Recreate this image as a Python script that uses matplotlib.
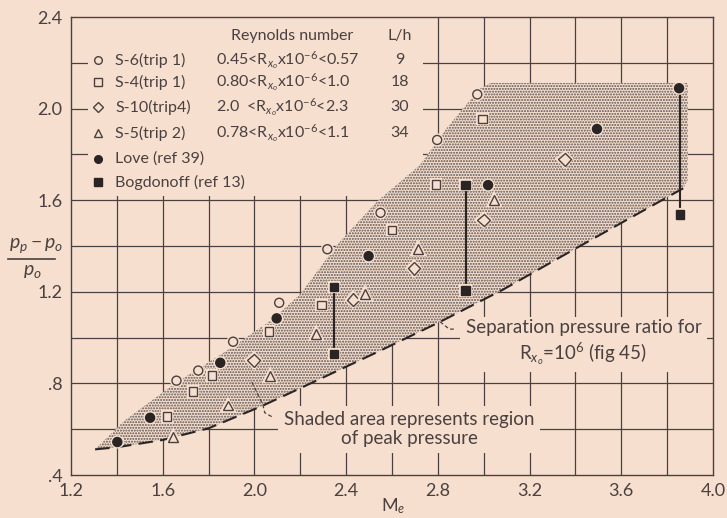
import matplotlib
matplotlib.use("Agg")
import matplotlib.pyplot as plt
import matplotlib.patheffects as pe
from matplotlib.lines import Line2D
import numpy as np

# ---------------- data ----------------
s6_M = [1.66, 1.755, 1.907, 2.108, 2.318, 2.55, 2.797, 2.972]
s6_y = [0.812, 0.856, 0.982, 1.152, 1.386, 1.545, 1.863, 2.062]
s4_M = [1.62, 1.733, 1.816, 2.065, 2.292, 2.6, 2.792, 2.994]
s4_y = [0.655, 0.765, 0.834, 1.026, 1.141, 1.47, 1.669, 1.956]
s10_M = [1.997, 2.43, 2.696, 3.0, 3.354]
s10_y = [0.901, 1.165, 1.303, 1.514, 1.779]
s5_M = [1.646, 1.886, 2.068, 2.27, 2.482, 2.713, 3.046]
s5_y = [0.567, 0.704, 0.832, 1.016, 1.189, 1.386, 1.602]
love_M = [1.402, 1.545, 1.851, 2.097, 2.498, 3.019, 3.494, 3.852]
love_y = [0.544, 0.65, 0.89, 1.084, 1.356, 1.666, 1.911, 2.089]
bog_M = [2.348, 2.348, 2.921, 2.921, 3.855]
bog_y = [1.22, 0.928, 1.666, 1.205, 1.538]
range_M = [2.348, 2.921, 3.855]
range_lo = [0.928, 1.205, 1.538]
range_hi = [1.22, 1.666, 2.089]

sep_M = [1.305, 1.4, 1.6, 1.8, 2.03, 2.2, 2.53, 2.81, 3.085, 3.39, 3.87]
sep_y = [0.512, 0.521, 0.553, 0.604, 0.70, 0.779, 0.934, 1.069, 1.21, 1.383, 1.652]

upper_M = [1.305, 1.436, 1.654, 1.872, 2.075, 2.2, 2.359, 2.533, 2.722, 2.838, 2.984, 3.03, 3.89, 3.89]
upper_y = [0.512, 0.64, 0.80, 0.938, 1.077, 1.19, 1.404, 1.593, 1.754, 1.914, 2.089, 2.112, 2.112, 1.688]

x_ticks = [1.2, 1.6, 2.0, 2.4, 2.8, 3.2, 3.6, 4.0]
x_labels = ["1.2", "1.6", "2.0", "2.4", "2.8", "3.2", "3.6", "4.0"]
y_ticks = [0.4, 0.8, 1.2, 1.6, 2.0, 2.4]
y_labels = [".4", ".8", "1.2", "1.6", "2.0", "2.4"]

legend_names = ["S-6(trip 1)", "S-4(trip 1)", "S-10(trip4)", "S-5(trip 2)", "Love (ref 39)", "Bogdonoff (ref 13)"]
legend_re = [r"0.45<R$_{x_o}$x10$^{-6}$<0.57", r"0.80<R$_{x_o}$x10$^{-6}$<1.0",
             r"2.0  <R$_{x_o}$x10$^{-6}$<2.3", r"0.78<R$_{x_o}$x10$^{-6}$<1.1", "", ""]
legend_lh = ["9", "18", "30", "34", "", ""]

# ---------------- style ----------------
BG = "#f6dfcf"
INK = "#4a4040"
DARK = "#2a2424"
plt.rcParams["font.family"] = ["Lato", "DejaVu Sans"]
plt.rcParams["mathtext.fontset"] = "custom"
plt.rcParams["mathtext.rm"] = "Lato"
plt.rcParams["mathtext.it"] = "Lato:italic"
plt.rcParams["mathtext.sf"] = "Lato"
plt.rcParams["hatch.linewidth"] = 1.0

fig = plt.figure(figsize=(7.27, 5.18), dpi=100, facecolor=BG)
ax = fig.add_axes([71 / 727, 1 - 475 / 518, (713 - 71) / 727, (475 - 17) / 518])
ax.set_facecolor(BG)
ax.set_xlim(1.2, 4.0)
ax.set_ylim(0.4, 2.4)

# grid
for gx in np.arange(1.4, 4.0, 0.2):
    ax.axvline(gx, color=INK, lw=0.9, zorder=0.5)
for gy in np.arange(0.6, 2.4, 0.2):
    ax.axhline(gy, color=INK, lw=0.9, zorder=0.5)

# legend blank area
ax.add_patch(plt.Rectangle((1.275, 1.62), 2.735 - 1.275, 0.8, facecolor=BG, edgecolor="none", zorder=0.8))

# shaded region
poly_M = list(sep_M) + list(upper_M[::-1])
poly_y = list(sep_y) + list(upper_y[::-1])
ax.fill(poly_M, poly_y, facecolor=BG, edgecolor="#5a504e", lw=0, hatch="......", zorder=1)

# separation curve
ax.plot(sep_M, sep_y, color=DARK, lw=1.5, dashes=(7, 3.5), zorder=2)

# range lines
ax.vlines(range_M, range_lo, range_hi, color=DARK, lw=1.5, zorder=2)

halo = [pe.withStroke(linewidth=3, foreground=BG)]
kw = dict(ls="none", zorder=3, path_effects=halo)
ax.plot(s6_M, s6_y, marker="o", ms=6.5, mfc=BG, mec=INK, mew=1.0, **kw)
ax.plot(s4_M, s4_y, marker="s", ms=6, mfc=BG, mec=INK, mew=1.0, **kw)
ax.plot(s10_M, s10_y, marker="D", ms=6.5, mfc=BG, mec=INK, mew=1.0, **kw)
ax.plot(s5_M, s5_y, marker="^", ms=7, mfc=BG, mec=INK, mew=1.0, **kw)
ax.plot(love_M, love_y, marker="o", ms=6.5, mfc=DARK, mec=DARK, **kw)
ax.plot(bog_M, bog_y, marker="s", ms=6, mfc=DARK, mec=DARK, **kw)

# ticks
ax.set_xticks(x_ticks)
ax.set_xticklabels(x_labels)
ax.set_yticks(y_ticks)
ax.set_yticklabels(y_labels)
ax.tick_params(length=0, labelsize=13, colors=INK, pad=6)
for s in ax.spines.values():
    s.set_color(INK)
    s.set_linewidth(1.0)

fig.text(393 / 727, 1 - 506 / 518, r"M$_e$", fontsize=13, color=INK, ha="center", va="center")

# y label as fraction
fig.text(36 / 727, 1 - 246 / 518, r"$p_p - p_o$", fontsize=14, color=INK, ha="center", va="center")
fig.add_artist(Line2D([8 / 727, 55 / 727], [1 - 259 / 518] * 2, color=INK, lw=1.2))
fig.text(32 / 727, 1 - 271 / 518, r"$p_o$", fontsize=14, color=INK, ha="center", va="center")

# legend (manual)
def px(x, y):
    # pixel (image coords) -> axes fraction
    return ((x - 71) / (713 - 71), (475 - y) / (475 - 17))

fs = 11.5
ax.text(*px(292, 36), "Reynolds number", transform=ax.transAxes, fontsize=fs, color=INK, ha="center", va="center")
ax.text(*px(400, 36), "L/h", transform=ax.transAxes, fontsize=fs, color=INK, ha="center", va="center")
row_y = [60, 82, 107, 133, 159, 182]
leg_mk = [("o", BG, INK), ("s", BG, INK), ("D", BG, INK), ("^", BG, INK), ("o", DARK, DARK), ("s", DARK, DARK)]
for i, ry in enumerate(row_y):
    m, fc, ec = leg_mk[i]
    ax.plot(*px(98, ry), marker=m, ms=5.5, mfc=fc, mec=ec, mew=1.0, transform=ax.transAxes, zorder=3, clip_on=False)
    ax.text(*px(115, ry), legend_names[i], transform=ax.transAxes, fontsize=fs, color=INK, ha="left", va="center")
    if legend_re[i]:
        ax.text(*px(216, ry), legend_re[i], transform=ax.transAxes, fontsize=fs, color=INK, ha="left", va="center")
        ax.text(*px(400, ry), legend_lh[i], transform=ax.transAxes, fontsize=fs, color=INK, ha="center", va="center")

# annotations
bbox = dict(facecolor=BG, edgecolor="none", pad=4)
ax.text(2.674, 0.60, "Shaded area represents region\nof peak pressure", fontsize=13.5, color=INK,
        ha="center", va="center", linespacing=1.1, bbox=bbox, zorder=2.5)
ax.plot([2.075, 2.045, 2.037, 1.988], [0.655, 0.672, 0.706, 0.807], color=INK, lw=0.9, ls=(0, (3, 2)), zorder=2.6)

ax.text(3.435, 0.978, "Separation pressure ratio for\n" + r"R$_{x_o}$=10$^6$ (fig 45)", fontsize=13.5,
        color=INK, ha="center", va="center", linespacing=1.25, bbox=bbox, zorder=2.5)
ax.plot([2.81, 2.85, 2.875], [1.069, 1.037, 1.037], color=INK, lw=0.9, ls=(0, (3, 2)), zorder=2.6)

fig.savefig("out.png", dpi=100, facecolor=BG)
